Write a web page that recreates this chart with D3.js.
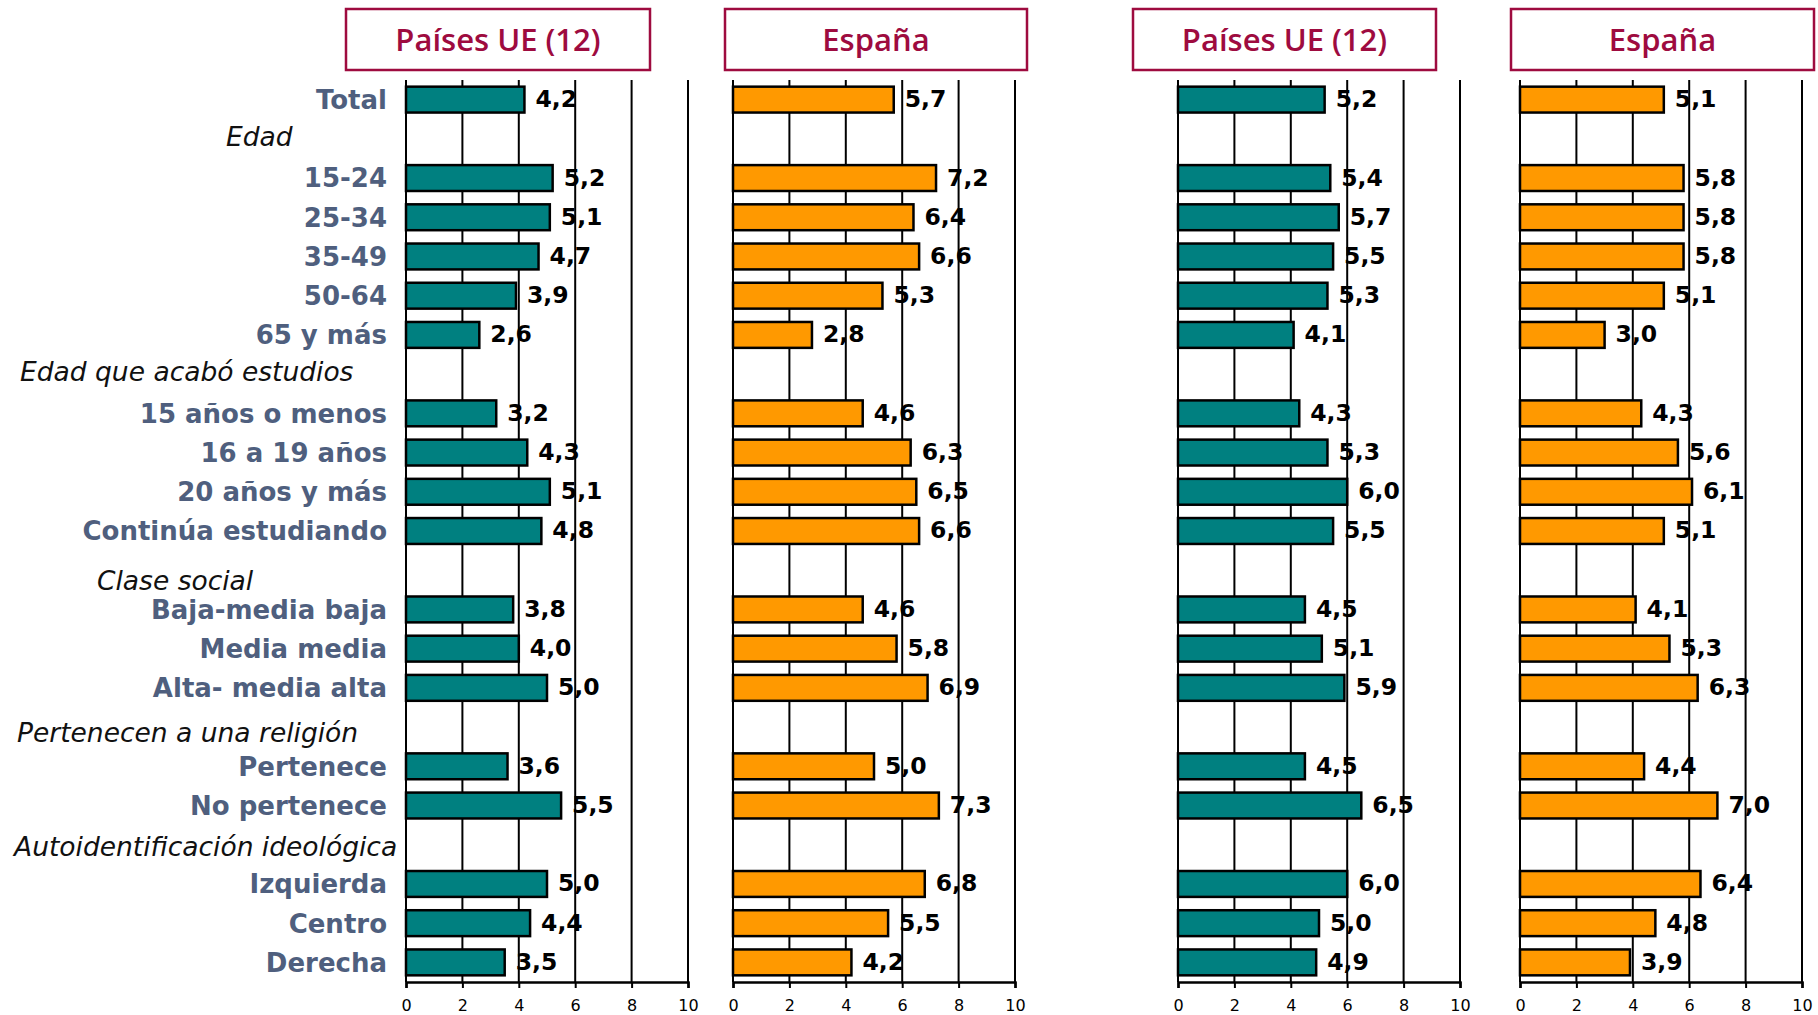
<!DOCTYPE html>
<html>
<head>
<meta charset="utf-8">
<script src="https://cdn.jsdelivr.net/npm/d3@7"></script>
<style>
  body { margin: 0; background: #fff; }
  svg { display: block; }
</style>
</head>
<body>
<script>
// rows in display order (headers included as empty slots)
const slots = ["Total", "Edad", "15-24", "25-34", "35-49", "50-64", "65 y más",
  "Edad que acabó estudios", "15 años o menos", "16 a 19 años", "20 años y más", "Continúa estudiando",
  "Clase social", "Baja-media baja", "Media media", "Alta- media alta",
  "Pertenecen a una religión", "Pertenece", "No pertenece",
  "Autoidentificación ideológica", "Izquierda", "Centro", "Derecha"];
const headers = ["Edad", "Edad que acabó estudios", "Clase social", "Pertenecen a una religión", "Autoidentificación ideológica"];
const categories = slots.filter(d => !headers.includes(d));

const panelTitles = ["Países UE (12)", "España", "Países UE (12)", "España"];
const ueLeft  = [4.2, 5.2, 5.1, 4.7, 3.9, 2.6, 3.2, 4.3, 5.1, 4.8, 3.8, 4.0, 5.0, 3.6, 5.5, 5.0, 4.4, 3.5];
const esLeft  = [5.7, 7.2, 6.4, 6.6, 5.3, 2.8, 4.6, 6.3, 6.5, 6.6, 4.6, 5.8, 6.9, 5.0, 7.3, 6.8, 5.5, 4.2];
const ueRight = [5.2, 5.4, 5.7, 5.5, 5.3, 4.1, 4.3, 5.3, 6.0, 5.5, 4.5, 5.1, 5.9, 4.5, 6.5, 6.0, 5.0, 4.9];
const esRight = [5.1, 5.8, 5.8, 5.8, 5.1, 3.0, 4.3, 5.6, 6.1, 5.1, 4.1, 5.3, 6.3, 4.4, 7.0, 6.4, 4.8, 3.9];
const tickValues = [0, 2, 4, 6, 8, 10];

const width = 1818;
const height = 1015;
const plotTop = 80;
const plotBottom = 982;
const panelWidth = 282;

const teal = "#008080";
const orange = "#ff9900";
const crimson = "#9e0b3f";

// x position of each panel, and of its title box
const panels = [
  { values: ueLeft,  color: teal,   x0: 406,  box: [346, 650] },
  { values: esLeft,  color: orange, x0: 733,  box: [725, 1027] },
  { values: ueRight, color: teal,   x0: 1178, box: [1133, 1436] },
  { values: esRight, color: orange, x0: 1520, box: [1511, 1814] }
];

// where each italic header starts and a small vertical nudge
const headerPos = {
  "Edad": [226, -2],
  "Edad que acabó estudios": [20, -3],
  "Clase social": [97, 10],
  "Pertenecen a una religión": [17, 5],
  "Autoidentificación ideológica": [14, 2]
};

const y = d3.scalePoint()
    .domain(slots)
    .range([plotTop, plotBottom])
    .padding(0.5);

const barHeight = y.step() * 0.66;
const fmt = v => v.toFixed(1).replace(".", ",");

const svg = d3.select("body").append("svg")
    .attr("width", width)
    .attr("height", height)
    .attr("viewBox", [0, 0, width, height]);

// category labels
svg.append("g")
    .selectAll("text")
    .data(categories)
    .join("text")
    .attr("x", 387)
    .attr("y", d => y(d))
    .attr("dy", "0.36em")
    .attr("text-anchor", "end")
    .attr("fill", "#4f5f7e")
    .style("font-family", "DejaVu Sans, sans-serif")
    .style("font-weight", "bold")
    .style("font-size", "26px")
    .text(d => d);

// italic group headers
svg.append("g")
    .selectAll("text")
    .data(headers)
    .join("text")
    .attr("x", d => headerPos[d][0])
    .attr("y", d => y(d) + headerPos[d][1])
    .attr("dy", "0.36em")
    .attr("fill", "#111")
    .style("font-family", "DejaVu Sans, sans-serif")
    .style("font-style", "italic")
    .style("font-weight", "300")
    .style("font-size", "26.5px")
    .text(d => d);

panels.forEach((p, i) => {
  const x = d3.scaleLinear()
      .domain([0, 10])
      .range([p.x0, p.x0 + panelWidth]);

  const g = svg.append("g");

  // title box
  g.append("rect")
      .attr("x", p.box[0])
      .attr("y", 9)
      .attr("width", p.box[1] - p.box[0])
      .attr("height", 61)
      .attr("fill", "white")
      .attr("stroke", crimson)
      .attr("stroke-width", 2.5);

  g.append("text")
      .attr("x", (p.box[0] + p.box[1]) / 2)
      .attr("y", 40)
      .attr("dy", "0.36em")
      .attr("text-anchor", "middle")
      .attr("fill", crimson)
      .style("font-family", "Open Sans, sans-serif")
      .style("font-weight", "600")
      .style("font-size", "31px")
      .text(panelTitles[i]);

  // vertical grid lines
  g.append("g")
      .selectAll("line")
      .data(tickValues)
      .join("line")
      .attr("x1", d => x(d))
      .attr("x2", d => x(d))
      .attr("y1", plotTop)
      .attr("y2", plotBottom)
      .attr("stroke", "black")
      .attr("stroke-width", 2);

  // bottom axis
  g.append("g")
      .attr("transform", `translate(0,${plotBottom})`)
      .call(d3.axisBottom(x).tickValues(tickValues).tickSize(6).tickPadding(12))
      .call(g => g.select(".domain").attr("stroke-width", 2.5))
      .call(g => g.selectAll(".tick line").attr("stroke-width", 2))
      .call(g => g.selectAll("text")
          .style("font-family", "DejaVu Sans, sans-serif")
          .style("font-size", "16px")
          .attr("fill", "black"));

  // bars
  g.append("g")
      .selectAll("rect")
      .data(categories)
      .join("rect")
      .attr("x", x(0))
      .attr("y", d => y(d) - barHeight / 2)
      .attr("width", (d, j) => x(p.values[j]) - x(0))
      .attr("height", barHeight)
      .attr("fill", p.color)
      .attr("stroke", "black")
      .attr("stroke-width", 2.5);

  // value labels
  g.append("g")
      .selectAll("text")
      .data(categories)
      .join("text")
      .attr("x", (d, j) => x(p.values[j]) + 11)
      .attr("y", d => y(d) - 1)
      .attr("dy", "0.36em")
      .attr("fill", "black")
      .style("font-family", "DejaVu Sans, sans-serif")
      .style("font-weight", "bold")
      .style("font-size", "23.5px")
      .text((d, j) => fmt(p.values[j]));
});
</script>
</body>
</html>
